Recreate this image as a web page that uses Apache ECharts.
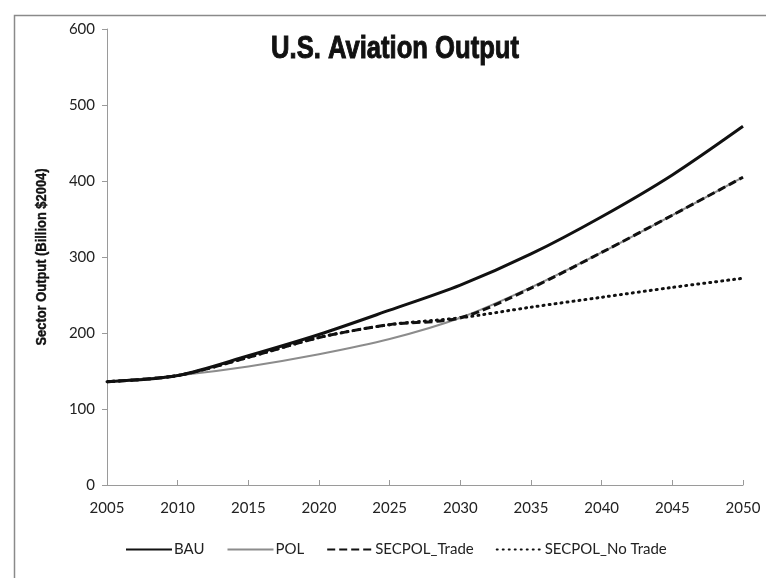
<!DOCTYPE html>
<html>
<head>
<meta charset="utf-8">
<script src="https://cdn.jsdelivr.net/npm/echarts@6/dist/echarts.min.js"></script>
<style>html,body{margin:0;padding:0;background:#fff;}#c{width:766px;height:578px;}</style>
</head>
<body>
<div id="c"></div>
<script>
var years = [2005, 2010, 2015, 2020, 2025, 2030, 2035, 2040, 2045, 2050];
var bau = [136, 144, 170, 198, 230, 263, 304, 353, 408, 472];
var pol = [136, 144, 156, 172, 192, 220, 260, 306, 355, 405];
var secpolTrade = [136, 144, 168, 194, 211, 220, 259, 306, 355, 405];
var secpolNoTrade = [136, 144, 168, 194, 211, 220, 234, 247, 260, 272];
var xTicks = [2005, 2010, 2015, 2020, 2025, 2030, 2035, 2040, 2045, 2050];
var yTicks = [0, 100, 200, 300, 400, 500, 600];
var titleText = 'U.S. Aviation Output';
var yAxisTitle = 'Sector Output (Billion $2004)';

function pairs(vals) { return years.map(function (y, i) { return [y, vals[i]]; }); }

var chart = echarts.init(document.getElementById('c'), null, { renderer: 'canvas' });
var labelFont = 'Lato, "Open Sans", sans-serif';
chart.setOption({
  animation: false,
  backgroundColor: '#fff',
  graphic: [{
    type: 'rect', left: 12, top: 13, z: -1,
    shape: { width: 800, height: 620 },
    style: { fill: 'none', stroke: '#8a8a8a', lineWidth: 1.5 }
  }, {
    type: 'text', x: 395, y: 49, scaleX: 0.8,
    style: { text: titleText, align: 'center', verticalAlign: 'middle',
      font: 'bold 32px "Liberation Sans", Arial, sans-serif', fill: '#111', stroke: '#111', lineWidth: 1 }
  }, {
    type: 'text', x: 42, y: 257, rotation: Math.PI / 2, scaleX: 0.86,
    style: { text: yAxisTitle, align: 'center', verticalAlign: 'middle',
      font: 'bold 15px "Liberation Sans", Arial, sans-serif', fill: '#111', stroke: '#111', lineWidth: 0.4 }
  }],
  grid: { left: 107, right: 23, top: 29, bottom: 93, containLabel: false },
  legend: {
    bottom: 16, left: 120,
    itemWidth: 46, itemHeight: 10, itemGap: 22,
    itemStyle: { opacity: 0 },
    textStyle: { fontFamily: labelFont, fontSize: 15, color: '#222', padding: [0, 0, 0, -3] },
    data: ['BAU', 'POL', 'SECPOL_Trade', 'SECPOL_No Trade']
  },
  xAxis: {
    type: 'value', min: 2005, max: 2050, interval: 5,
    axisLine: { lineStyle: { color: '#9a9a9a', width: 1 } },
    axisTick: { show: true, length: 5, inside: true, lineStyle: { color: '#9a9a9a' } },
    splitLine: { show: false },
    axisLabel: { formatter: function (v) { return String(v); }, fontFamily: labelFont, fontSize: 15, color: '#222', margin: 16 }
  },
  yAxis: {
    type: 'value', min: 0, max: 600, interval: 100,
    axisLine: { show: true, lineStyle: { color: '#9a9a9a', width: 1 } },
    axisTick: { show: true, length: 5, lineStyle: { color: '#9a9a9a' } },
    splitLine: { show: false },
    axisLabel: { fontFamily: labelFont, fontSize: 15, color: '#222', margin: 12 }
  },
  series: [
    { name: 'BAU', type: 'line', data: pairs(bau), smooth: 0.3, symbol: 'none', z: 4,
      lineStyle: { color: '#111', width: 3 }, itemStyle: { color: '#111' } },
    { name: 'POL', type: 'line', data: pairs(pol), smooth: 0.3, symbol: 'none', z: 3,
      lineStyle: { color: '#8c8c8c', width: 2 }, itemStyle: { color: '#8c8c8c' } },
    { name: 'SECPOL_Trade', type: 'line', data: pairs(secpolTrade), smooth: 0.3, symbol: 'none', z: 5,
      lineStyle: { color: '#111', width: 3, type: [8, 4] }, itemStyle: { color: '#111' } },
    { name: 'SECPOL_No Trade', type: 'line', data: pairs(secpolNoTrade), smooth: 0.3, symbol: 'none', z: 2,
      lineStyle: { color: '#111', width: 3, type: [1, 5], cap: 'round' }, itemStyle: { color: '#111' } }
  ]
});
</script>
</body>
</html>
